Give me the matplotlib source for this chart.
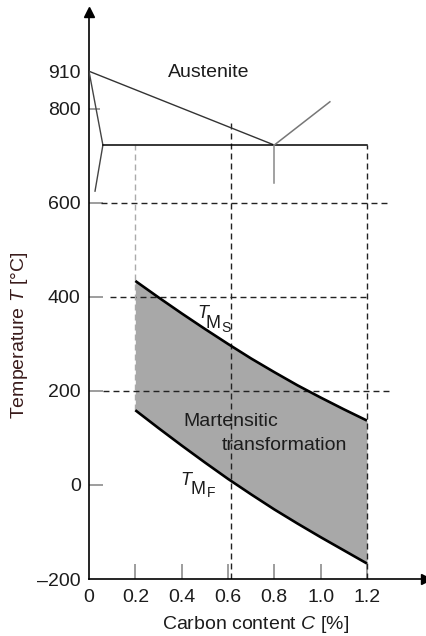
import matplotlib
matplotlib.use("Agg")
import matplotlib.pyplot as plt

plt.rcParams['font.family'] = ['Liberation Sans', 'DejaVu Sans']
plt.rcParams['mathtext.fontset'] = 'custom'
plt.rcParams['mathtext.rm'] = 'Liberation Sans'
plt.rcParams['mathtext.it'] = 'Liberation Sans:italic'

# ---- data ----
carbon = [0.2, 0.3, 0.4, 0.5, 0.6, 0.7, 0.8, 0.9, 1.0, 1.1, 1.2]
T_ms = [434, 399, 365, 332, 300, 269, 240, 212, 186, 161, 137]
T_mf = [159, 121, 84, 48, 13, -20, -52, -82, -111, -139, -167]

# iron-carbon diagram part (as drawn)
a3_C = [0.0, 0.8]
a3_T = [880, 723]
alpha_C = [0.0, 0.06, 0.026]
alpha_T = [880, 723, 625]
a1_C = [0.06, 1.2]
a1_T = [723, 723]
acm_C = [0.8, 1.04]
acm_T = [723, 815]
eut_C = [0.8, 0.8]
eut_T = [723, 642]

# reference guides
h_guides = [(600, 0.05, 1.29), (400, 0.09, 1.2), (200, 0.06, 1.3)]
v_guides = [(0.615, -200, 777, '#222222'), (1.2, -200, 723, '#222222'),
            (0.2, 159, 723, '#aaaaaa')]

yticks = [-200, 0, 200, 400, 600, 800, 880]
yticklabels = ['\u2013200', '0', '200', '400', '600', '800', '910']
xticks = [0, 0.2, 0.4, 0.6, 0.8, 1.0, 1.2]
xticklabels = ['0', '0.2', '0.4', '0.6', '0.8', '1.0', '1.2']

txt = '#1c1c1c'

fig = plt.figure(figsize=(4.26, 6.36), dpi=100)
ax = fig.add_axes([89/426, 1 - 579/636, (426 - 89)/426, (579 - 12)/636])
ax.set_xlim(0, 1.455)
ax.set_ylim(-200, 1006)

ax.fill_between(carbon, T_mf, T_ms, color='#a8a8a8', linewidth=0, zorder=1)

dash = (0, (4.3, 2.9))
for y, x0, x1 in h_guides:
    ax.plot([x0, x1], [y, y], color='#222222', lw=1.0, ls=dash, zorder=2)
for x, y0, y1, c in v_guides:
    ax.plot([x, x], [y0, y1], color=c, lw=1.0, ls=dash, zorder=2)

ax.plot(carbon, T_ms, color='black', lw=1.9, zorder=3, solid_capstyle='butt',
        solid_joinstyle='round')
ax.plot(carbon, T_mf, color='black', lw=1.9, zorder=3, solid_capstyle='butt',
        solid_joinstyle='round')

ax.plot(a3_C, a3_T, color='#333333', lw=1.0, zorder=3)
ax.plot(alpha_C, alpha_T, color='#444444', lw=1.0, zorder=3)
ax.plot(a1_C, a1_T, color='black', lw=1.1, zorder=3)
ax.plot(acm_C, acm_T, color='#777777', lw=1.1, zorder=3)
ax.plot(eut_C, eut_T, color='#888888', lw=1.1, zorder=3)

# spines and arrows
for s in ['top', 'right']:
    ax.spines[s].set_visible(False)
for s in ['left', 'bottom']:
    ax.spines[s].set_linewidth(1.2)
ax.plot([0], [1], marker='^', color='black', markersize=7, transform=ax.transAxes, clip_on=False)
ax.plot([1], [0], marker='>', color='black', markersize=7, transform=ax.transAxes, clip_on=False)

ax.set_xticks(xticks)
ax.set_xticklabels(xticklabels)
ax.set_yticks(yticks)
ax.set_yticklabels(yticklabels)
ax.tick_params(axis='x', direction='in', length=10.5, width=1.2, colors='#8c8c8c',
               labelcolor=txt, labelsize=14, pad=7)
ax.tick_params(axis='y', direction='in', length=10, width=1.2, colors='#8c8c8c',
               labelcolor=txt, labelsize=14, pad=6)
for t in ax.xaxis.get_major_ticks():
    if t.get_loc() == 0:
        t.tick1line.set_visible(False)
    if t.get_loc() == 1.2:
        t.tick1line.set_color('black')
for t in ax.yaxis.get_major_ticks():
    if t.get_loc() in (-200, 880):
        t.tick1line.set_visible(False)
    if t.get_loc() == 800:
        t.tick1line.set_color('black')
        t.tick1line.set_markersize(8)

ax.set_xlabel('Carbon content $C$ [%]', fontsize=14, color=txt)
ax.xaxis.set_label_coords(0.493, -0.062)
ax.set_ylabel('Temperature $T$ [°C]', fontsize=14, color='#3a1c1c')
ax.yaxis.set_label_coords(-0.175, 0.430)

ax.text(0.518, 877, 'Austenite', fontsize=14, color=txt, ha='center', va='center')
ax.text(0.613, 135, 'Martensitic', fontsize=14, color=txt, ha='center', va='center')
ax.text(0.842, 85, 'transformation', fontsize=14, color=txt, ha='center', va='center')

def temp_label(x, y, sub, dxm, dym, dxs, dys):
    ax.annotate('T', (x, y), fontsize=13, fontstyle='italic', color=txt,
                ha='left', va='baseline')
    ax.annotate('M', (x, y), xytext=(dxm, -dym), textcoords='offset pixels',
                fontsize=13, color=txt, ha='left', va='baseline')
    ax.annotate(sub, (x, y), xytext=(dxs, -dys), textcoords='offset pixels',
                fontsize=10, color=txt, ha='left', va='baseline')

temp_label(0.466, 355, 'S', 9, 10, 24, 14)
temp_label(0.393, 0, 'F', 10.5, 9, 26.5, 12)

fig.savefig('out.png', dpi=100)
